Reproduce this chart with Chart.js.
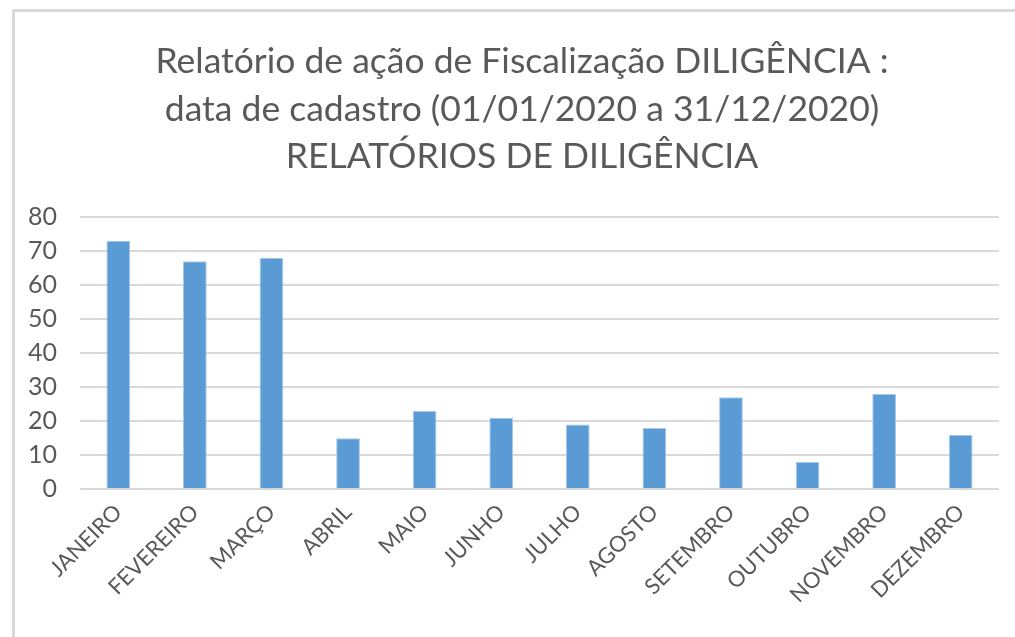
<!DOCTYPE html>
<html>
<head>
<meta charset="utf-8">
<script src="https://cdn.jsdelivr.net/npm/chart.js@4/dist/chart.umd.min.js"></script>
<style>
  html, body { margin: 0; padding: 0; background: #fff; }
  #moldura { position: absolute; left: 12px; top: 9px; width: 1003px; height: 628px;
             border-top: 3px solid #d9d9d9; border-left: 3px solid #d9d9d9; }
  #caixa { position: absolute; left: 0; top: 0; width: 1015px; height: 637px; }
</style>
</head>
<body>
<div id="moldura"></div>
<div id="caixa"><canvas id="grafico" width="1015" height="637"></canvas></div>
<script>
'use strict';

/* dados: relatórios de diligência por mês (2020) */
var meses = ['JANEIRO', 'FEVEREIRO', 'MARÇO', 'ABRIL', 'MAIO', 'JUNHO', 'JULHO',
  'AGOSTO', 'SETEMBRO', 'OUTUBRO', 'NOVEMBRO', 'DEZEMBRO'];
var relatorios = [73, 67, 68, 15, 23, 21, 19, 18, 27, 8, 28, 16];
var tituloLinhas = [
  'Relatório de ação de Fiscalização DILIGÊNCIA :',
  'data de cadastro (01/01/2020 a 31/12/2020)',
  'RELATÓRIOS DE DILIGÊNCIA'
];
var eixoY = { min: 0, max: 80, passo: 10 };

var CINZA_TEXTO = '#595959';
var CINZA_GRADE = '#d9d9d9';
var FONTE = 'Lato, "Open Sans", sans-serif';

// título em três linhas, centrado na caixa do gráfico (não só na área de plotagem)
var tituloPlugin = {
  id: 'tituloCaixa',
  afterDraw: function (chart) {
    var c = chart.ctx;
    c.save();
    c.fillStyle = CINZA_TEXTO;
    c.font = '35.5px ' + FONTE;
    c.textAlign = 'center';
    c.textBaseline = 'middle';
    tituloLinhas.forEach(function (linha, i) {
      c.fillText(linha, 522, 62 + i * 47.5);
    });
    c.restore();
  }
};

var ctx = document.getElementById('grafico');
new Chart(ctx, {
  type: 'bar',
  data: {
    labels: meses,
    datasets: [{
      label: 'RELATÓRIOS DE DILIGÊNCIA',
      data: relatorios,
      backgroundColor: '#5b9bd5',
      borderColor: '#a8c8ea',
      borderWidth: 1,
      barPercentage: 0.31,
      categoryPercentage: 1
    }]
  },
  plugins: [tituloPlugin],
  options: {
    responsive: false,
    animation: false,
    layout: { padding: { left: 5, right: 16, top: 217, bottom: 19 } },
    plugins: {
      legend: { display: false },
      tooltip: { enabled: false },
      title: { display: false }
    },
    scales: {
      x: {
        grid: { display: false, drawTicks: false },
        border: { display: false },
        ticks: {
          color: CINZA_TEXTO,
          font: { family: FONTE, size: 22 },
          minRotation: 45,
          maxRotation: 45,
          autoSkip: false,
          padding: 10
        }
      },
      y: {
        min: eixoY.min,
        max: eixoY.max,
        grid: { color: CINZA_GRADE, lineWidth: 2, drawTicks: false },
        border: { display: false },
        ticks: {
          stepSize: eixoY.passo,
          autoSkip: false,
          color: CINZA_TEXTO,
          font: { family: FONTE, size: 25 },
          padding: 23
        }
      }
    }
  }
});
</script>
</body>
</html>
